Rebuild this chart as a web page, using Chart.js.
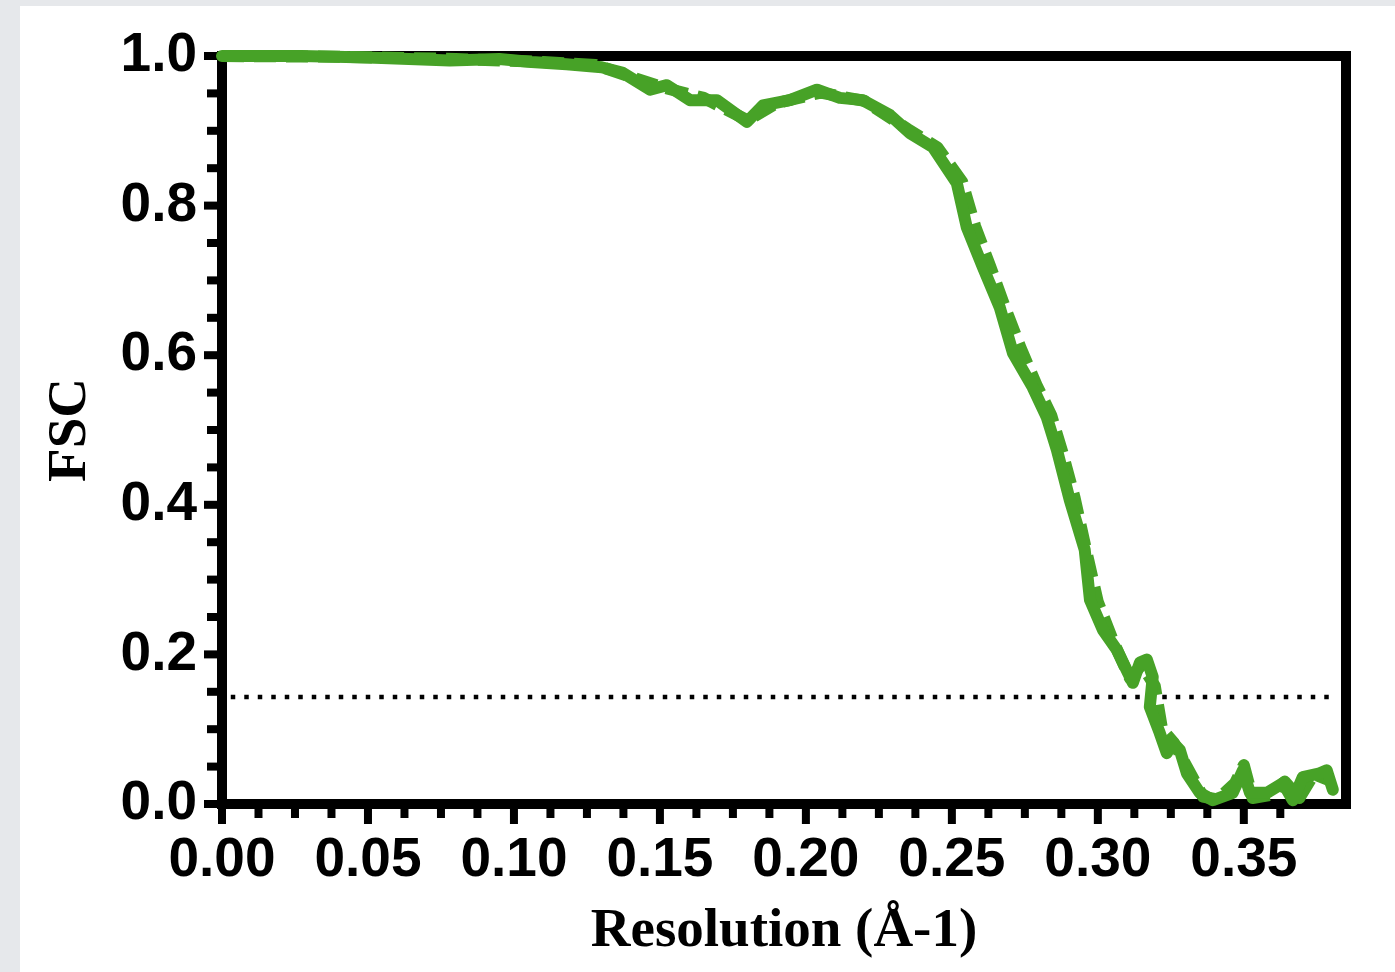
<!DOCTYPE html>
<html>
<head>
<meta charset="utf-8">
<script src="https://cdn.jsdelivr.net/npm/chart.js@4.4.1/dist/chart.umd.min.js"></script>
<style>
  html, body { margin: 0; padding: 0; background: #e6e8eb; overflow: hidden; }
  #wrap { position: absolute; left: 20px; top: 6px; width: 1375px; height: 966px; background: #fff; }
</style>
</head>
<body>
<div id="wrap"><canvas id="fsc" width="1375" height="966"></canvas></div>
<script>
// Solid FSC curve (resolution in 1/Å, FSC)
const solidRes = [0, 0.027, 0.050, 0.078, 0.095, 0.106, 0.118, 0.130, 0.137, 0.1466, 0.1524, 0.1603, 0.1695,
  0.1798, 0.1853, 0.1945, 0.2038, 0.2116, 0.2195, 0.2288, 0.2356, 0.2435, 0.2517, 0.2551, 0.2606, 0.2664,
  0.2709, 0.2777, 0.2825, 0.2860, 0.2904, 0.2955, 0.2973, 0.3017, 0.3065, 0.3120, 0.3144, 0.3168, 0.3188,
  0.3178, 0.3212, 0.3236, 0.3257, 0.3281, 0.3305, 0.3349, 0.3394, 0.3462, 0.3497, 0.3521, 0.3579, 0.3634,
  0.3668, 0.3702, 0.3760, 0.3784, 0.3805];
const solidFsc = [1.0, 1.0, 0.998, 0.994, 0.996, 0.992, 0.989, 0.985, 0.978, 0.955, 0.961, 0.941, 0.941,
  0.912, 0.934, 0.941, 0.955, 0.944, 0.941, 0.921, 0.897, 0.878, 0.830, 0.771, 0.718, 0.664,
  0.603, 0.557, 0.517, 0.473, 0.406, 0.340, 0.273, 0.233, 0.206, 0.162, 0.189, 0.193, 0.170,
  0.130, 0.095, 0.068, 0.082, 0.072, 0.041, 0.015, 0.005, 0.015, 0.045, 0.015, 0.015, 0.028,
  0.005, 0.036, 0.041, 0.045, 0.019];

// Dashed FSC curve
const dashRes = [0, 0.04, 0.08, 0.11, 0.128, 0.14, 0.152, 0.165, 0.18, 0.19, 0.205, 0.22, 0.235, 0.245,
  0.2535, 0.258, 0.263, 0.268, 0.2735, 0.279, 0.284, 0.288, 0.292, 0.2965, 0.300, 0.305, 0.311, 0.315,
  0.3195, 0.322, 0.326, 0.331, 0.336, 0.341, 0.347, 0.350, 0.353, 0.359, 0.364, 0.369, 0.374, 0.379];
const dashFsc = [1.0, 0.999, 0.996, 0.992, 0.988, 0.972, 0.957, 0.944, 0.914, 0.937, 0.951, 0.94, 0.902, 0.878,
  0.832, 0.772, 0.72, 0.666, 0.61, 0.56, 0.52, 0.468, 0.41, 0.33, 0.27, 0.22, 0.168, 0.186,
  0.158, 0.10, 0.082, 0.046, 0.01, 0.006, 0.028, 0.052, 0.008, 0.012, 0.03, 0.008, 0.04, 0.032];

// 0.143 threshold line
const cutoffRes = [0.003, 0.381];
const cutoffFsc = [0.143, 0.143];

// Tick labels
const xMajor = [0, 0.05, 0.10, 0.15, 0.20, 0.25, 0.30, 0.35];
const xLabels = ["0.00", "0.05", "0.10", "0.15", "0.20", "0.25", "0.30", "0.35"];
const yMajor = [0, 0.2, 0.4, 0.6, 0.8, 1.0];
const yLabels = ["0.0", "0.2", "0.4", "0.6", "0.8", "1.0"];

const green = "#47a227";

function toPoints(xs, ys) {
  return xs.map((x, i) => ({ x: x, y: ys[i] }));
}

function findMajor(list, v) {
  return list.findIndex((m) => Math.abs(m - v) < 1e-6);
}

function isStep(v, step) {
  const r = v / step;
  return Math.abs(r - Math.round(r)) < 1e-6;
}

// Black frame plus outward major/minor tick marks
const frameTicks = {
  id: "frameTicks",
  beforeDatasetsDraw(chart) {
    const { ctx, chartArea: a, scales } = chart;
    ctx.save();
    ctx.fillStyle = "#000";
    scales.x.ticks.forEach((t) => {
      if (!isStep(t.value, 0.0125)) return;
      const px = scales.x.getPixelForValue(t.value);
      const len = findMajor(xMajor, t.value) >= 0 ? 20 : 14;
      ctx.fillRect(px - 4, a.bottom, 8, len);
    });
    scales.y.ticks.forEach((t) => {
      if (!isStep(t.value, 0.05)) return;
      const py = scales.y.getPixelForValue(t.value);
      const len = findMajor(yMajor, t.value) >= 0 ? 18 : 15;
      ctx.fillRect(a.left - len, py - 4, len, 8);
    });
    ctx.lineWidth = 10;
    ctx.strokeStyle = "#000";
    ctx.lineJoin = "miter";
    ctx.strokeRect(a.left, a.top, a.right - a.left, a.bottom - a.top);
    ctx.restore();
  },
};

new Chart(document.getElementById("fsc"), {
  type: "line",
  data: {
    datasets: [
      {
        data: toPoints(solidRes, solidFsc),
        borderColor: green,
        borderWidth: 12,
        borderCapStyle: "round",
        borderJoinStyle: "round",
        pointRadius: 0,
        tension: 0,
        clip: false,
      },
      {
        data: toPoints(dashRes, dashFsc),
        borderColor: green,
        borderWidth: 12,
        borderDash: [22, 10],
        borderJoinStyle: "round",
        pointRadius: 0,
        tension: 0,
        clip: false,
      },
      {
        data: toPoints(cutoffRes, cutoffFsc),
        borderColor: "#000",
        borderWidth: 4.5,
        borderDash: [4.5, 9],
        pointRadius: 0,
        clip: false,
      },
    ],
  },
  options: {
    responsive: false,
    animation: false,
    layout: { padding: { top: 50, right: 49, left: 0, bottom: 0 } },
    plugins: {
      legend: { display: false },
      tooltip: { enabled: false },
    },
    scales: {
      x: {
        type: "linear",
        min: 0,
        max: 0.385,
        grid: { display: false, drawTicks: false },
        border: { display: false },
        ticks: {
          stepSize: 0.0125,
          autoSkip: false,
          maxRotation: 0,
          padding: 24,
          color: "#000",
          font: { family: "Liberation Sans", weight: "bold", size: 55 },
          callback: (v) => {
            const i = findMajor(xMajor, v);
            return i >= 0 ? xLabels[i] : "";
          },
        },
        title: {
          display: true,
          text: "Resolution (Å-1)",
          color: "#000",
          font: { family: "Liberation Serif", weight: "bold", size: 55 },
          padding: { top: 0, bottom: 7 },
        },
        afterFit: (scale) => {
          scale.height = 168;
          scale.paddingLeft = 0;
          scale.paddingRight = 0;
        },
      },
      y: {
        min: 0,
        max: 1,
        grid: { display: false, drawTicks: false },
        border: { display: false },
        ticks: {
          stepSize: 0.05,
          autoSkip: false,
          padding: 25,
          color: "#000",
          font: { family: "Liberation Sans", weight: "bold", size: 55 },
          callback: (v) => {
            const i = findMajor(yMajor, v);
            return i >= 0 ? yLabels[i] : "";
          },
        },
        title: {
          display: true,
          text: "FSC",
          color: "#000",
          font: { family: "Liberation Serif", weight: "bold", size: 55 },
          padding: { top: 18, bottom: 0 },
        },
        afterFit: (scale) => {
          scale.width = 202;
          scale.paddingTop = 0;
          scale.paddingBottom = 0;
        },
      },
    },
  },
  plugins: [frameTicks],
});
</script>
</body>
</html>
